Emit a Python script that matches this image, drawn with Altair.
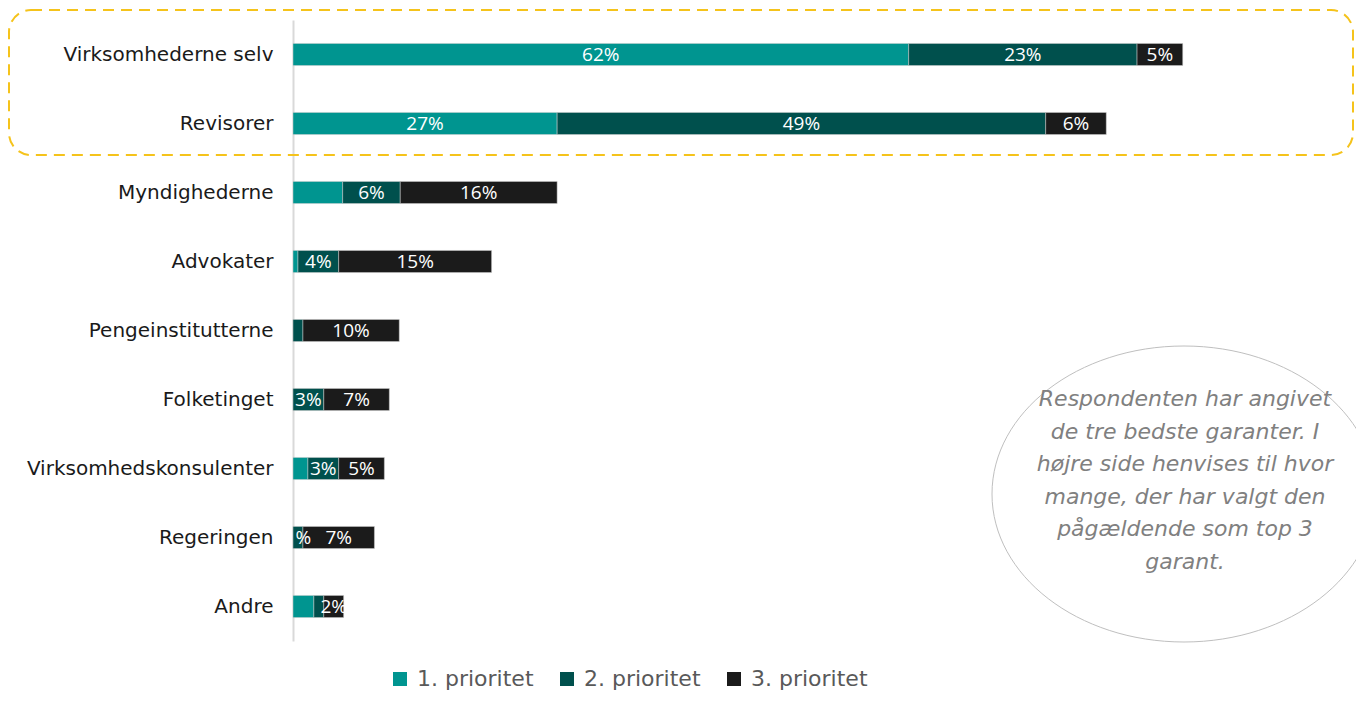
import altair as alt
import pandas as pd

# ---- data ----
categories = ["Virksomhederne selv", "Revisorer", "Myndighederne", "Advokater",
              "Pengeinstitutterne", "Folketinget", "Virksomhedskonsulenter",
              "Regeringen", "Andre"]
series = ["1. prioritet", "2. prioritet", "3. prioritet"]
p1 = [62.0, 26.6, 5.0, 0.5, 0.0, 0.0, 1.5, 0.0, 2.1]
p2 = [23.0, 49.2, 5.8, 4.1, 1.0, 3.1, 3.1, 1.0, 1.0]
p3 = [4.6, 6.1, 15.8, 15.4, 9.7, 6.6, 4.6, 7.2, 2.0]
lab1 = ["62%", "27%", "", "", "", "", "", "", ""]
lab2 = ["23%", "49%", "6%", "4%", "", "3%", "3%", "1%", ""]
lab3 = ["5%", "6%", "16%", "15%", "10%", "7%", "5%", "7%", "2%"]
colors = ["#009590", "#00504D", "#1B1B1B"]
note_lines = ["Respondenten har angivet", "de tre bedste garanter. I",
              "højre side henvises til hvor", "mange, der har valgt den",
              "pågældende som top 3", "garant."]

rows = []
for i, c in enumerate(categories):
    start = 0.0
    for s, vals, labs in zip(series, [p1, p2, p3], [lab1, lab2, lab3]):
        v = vals[i]
        rows.append({"cat": c, "series": s, "order": series.index(s),
                     "x0": start, "x1": start + v, "mid": start + v / 2,
                     "label": labs[i]})
        start += v
df = pd.DataFrame(rows)

W, H = 1063, 621
xscale = alt.Scale(domain=[0, W / 9.93], nice=False, zero=True)
yscale = alt.Scale(domain=categories, paddingInner=0.68, paddingOuter=0.34)
yaxis = alt.Axis(title=None, ticks=False, labelPadding=20, labelFontSize=20,
                 labelFont="DejaVu Sans", labelColor="#1a1a1a", domain=True,
                 domainColor="#d9d9d9", domainWidth=2, labelLimit=300, grid=False)

bars = alt.Chart(df).mark_bar(stroke="#cfcfcf", strokeWidth=0.5).encode(
    y=alt.Y("cat:N", scale=yscale, sort=categories, axis=yaxis),
    x=alt.X("x0:Q", scale=xscale, axis=None),
    x2="x1:Q",
    color=alt.Color("series:N", scale=alt.Scale(domain=series, range=colors),
                    legend=alt.Legend(title=None, orient="none", direction="horizontal",
                                      legendX=96, legendY=648, symbolType="square",
                                      symbolSize=196, symbolStrokeWidth=0,
                                      labelFontSize=22, labelFont="DejaVu Sans",
                                      labelColor="#595959", labelOffset=6,
                                      columnPadding=22, padding=0)),
    order="order:Q",
)

labels = alt.Chart(df[df["label"] != ""]).mark_text(
    color="white", fontSize=19, font="Open Sans", baseline="middle", align="center",
    clip=True
).encode(
    y=alt.Y("cat:N", scale=yscale, sort=categories, axis=yaxis),
    x=alt.X("mid:Q", scale=xscale, axis=None),
    text="label:N",
)

one = pd.DataFrame({"a": [0]})
box = alt.Chart(one).mark_rect(
    cornerRadius=22, fill="transparent", stroke="#F5C31B", strokeWidth=2,
    strokeDash=[11, 7]
).encode(x=alt.value(-284), x2=alt.value(1060), y=alt.value(-10), y2=alt.value(135))

k = 0.5523
r = 148 / 192
ell_path = (f"M 1 0 C 1 {k*r} {k} {r} 0 {r} C {-k} {r} -1 {k*r} -1 0 "
            f"C -1 {-k*r} {-k} {-r} 0 {-r} C {k} {-r} 1 {-k*r} 1 0 Z")
ellipse = alt.Chart(one).mark_point(
    shape=ell_path, size=384 ** 2, filled=False, stroke="#bfbfbf", strokeWidth=1,
    opacity=1
).encode(x=alt.value(891), y=alt.value(474))

note = alt.Chart(one).mark_text(
    text=note_lines, font="DejaVu Sans", fontStyle="italic", fontSize=22,
    color="#808080", align="center", baseline="middle", lineHeight=32.6
).encode(x=alt.value(892), y=alt.value(379))

chart = alt.layer(box, bars, labels, ellipse, note).properties(
    width=W, height=H, autosize="none", background="white",
    padding={"left": 285, "top": 12, "right": 0, "bottom": 52},
).configure_view(strokeWidth=0, stroke="transparent").configure_axisX(
    domain=False, ticks=False, labels=False, grid=False
)

chart.save("out.html", embed_options={"renderer": "svg", "actions": False})
